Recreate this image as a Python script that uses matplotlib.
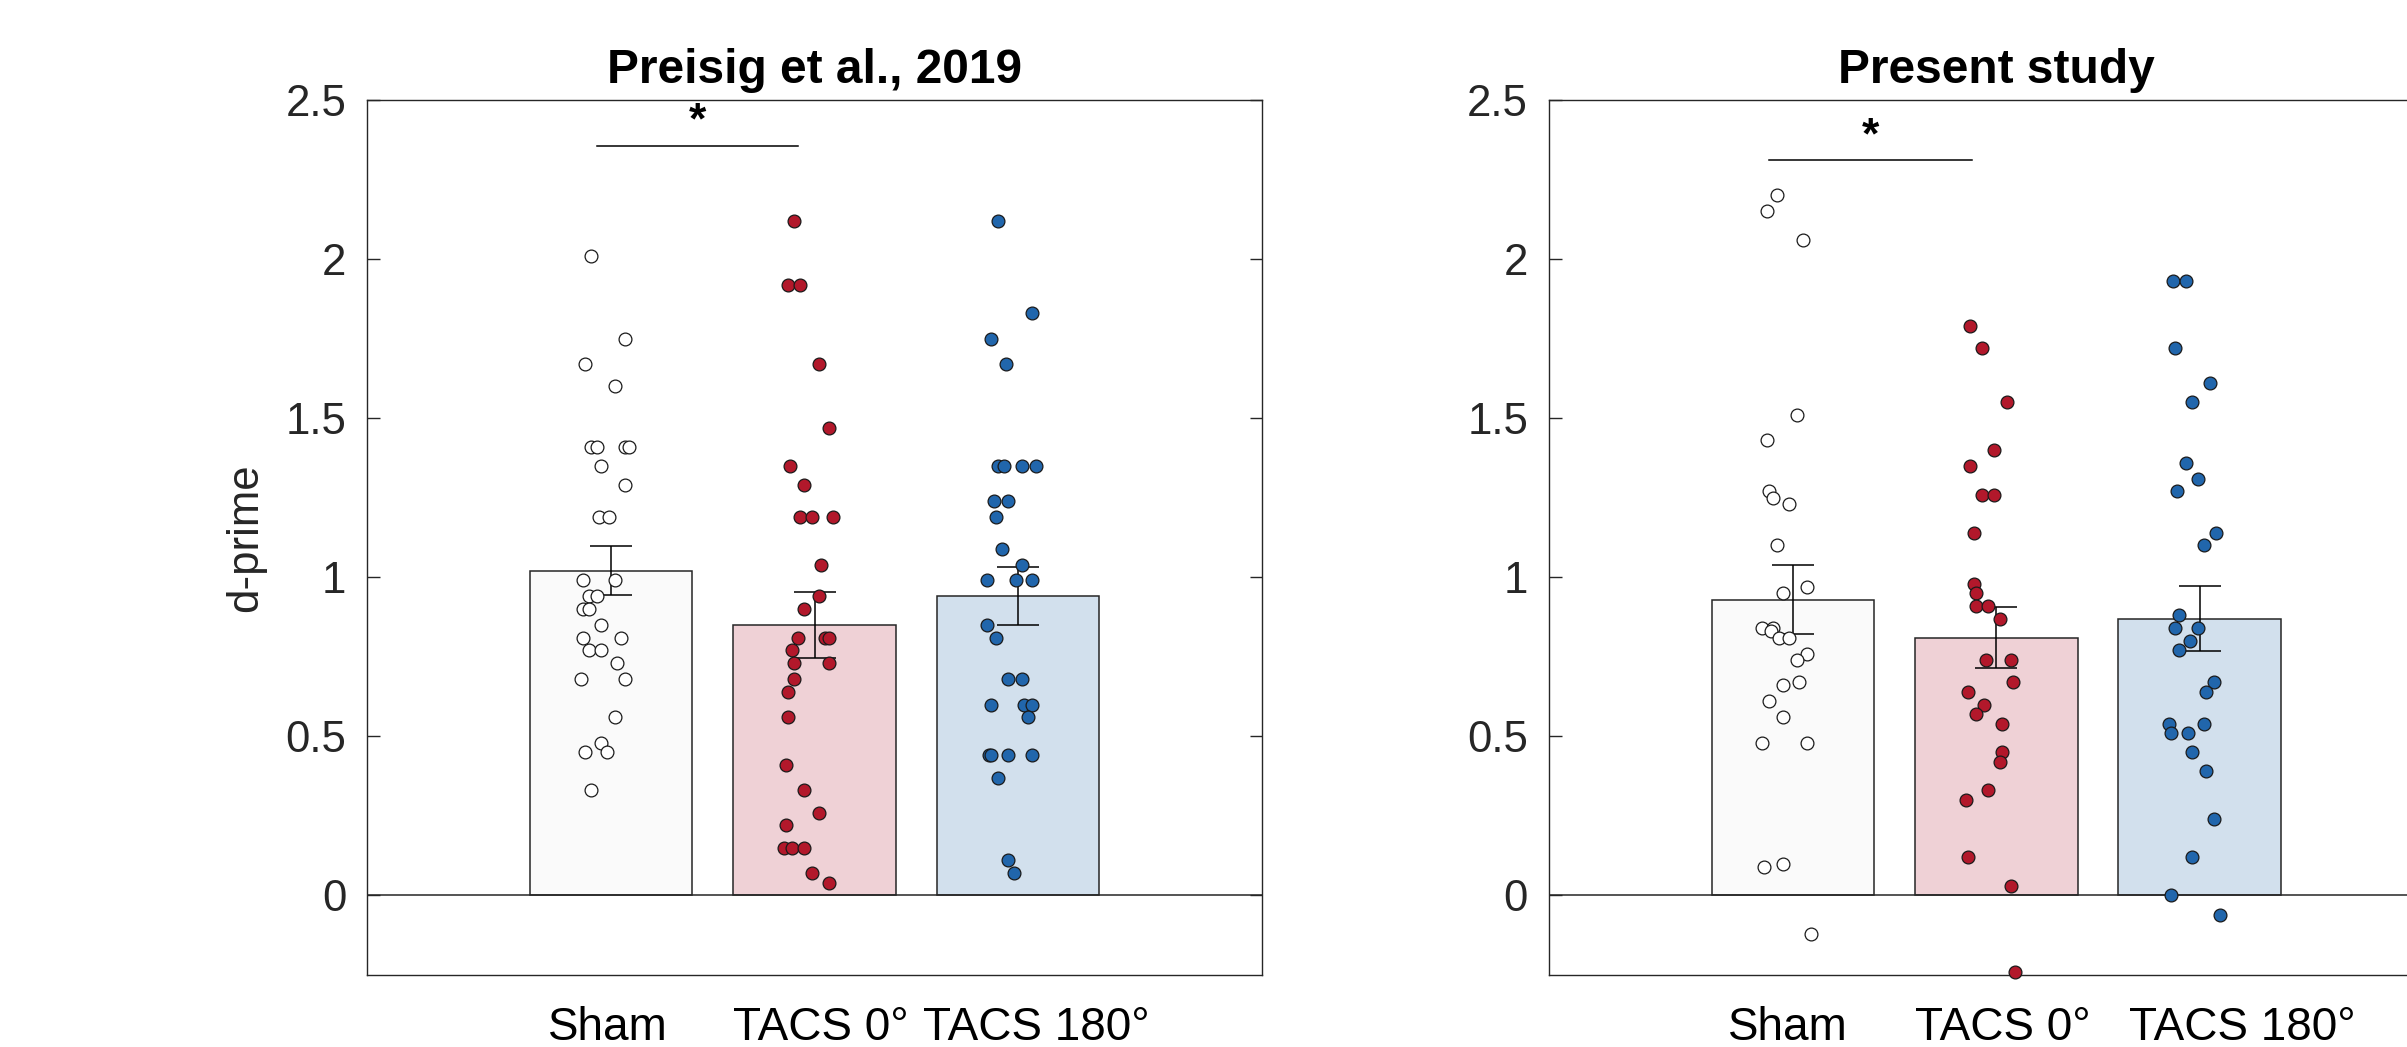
import matplotlib
matplotlib.use("Agg")
import matplotlib.pyplot as plt
import numpy as np

plt.rcParams['font.family'] = ['Liberation Sans', 'DejaVu Sans']

conditions = ['Sham', 'TACS 0°', 'TACS 180°']
yticks = [0, 0.5, 1, 1.5, 2, 2.5]
ytick_labels = ['0', '0.5', '1', '1.5', '2', '2.5']

# --- Preisig et al., 2019 ---
preisig_means = [1.02, 0.85, 0.94]
preisig_sem = [0.077, 0.103, 0.091]

preisig_sham = [2.01, 1.75, 1.67, 1.60, 1.41, 1.41, 1.41, 1.41, 1.35, 1.29, 1.19, 1.19,
                0.99, 0.99, 0.94, 0.94, 0.90, 0.90, 0.85, 0.81, 0.81, 0.77, 0.77, 0.73,
                0.68, 0.68, 0.56, 0.48, 0.45, 0.45, 0.33]
preisig_sham_jit = [-0.10, 0.07, -0.13, 0.02, -0.10, -0.07, 0.07, 0.09, -0.05, 0.07, -0.06, -0.01,
                    -0.14, 0.02, -0.11, -0.07, -0.14, -0.11, -0.05, -0.14, 0.05, -0.11, -0.05, 0.03,
                    -0.15, 0.07, 0.02, -0.05, -0.13, -0.02, -0.10]

preisig_tacs0 = [2.12, 1.92, 1.92, 1.67, 1.47, 1.35, 1.29, 1.19, 1.19, 1.19, 1.04, 0.94,
                 0.90, 0.81, 0.81, 0.81, 0.77, 0.73, 0.73, 0.68, 0.64, 0.56, 0.41, 0.33,
                 0.26, 0.22, 0.15, 0.15, 0.15, 0.07, 0.04]
preisig_tacs0_jit = [-0.10, -0.13, -0.07, 0.02, 0.07, -0.12, -0.05, -0.07, -0.01, 0.09, 0.03, 0.02,
                     -0.05, -0.08, 0.05, 0.07, -0.11, -0.10, 0.07, -0.10, -0.13, -0.13, -0.14, -0.05,
                     0.02, -0.14, -0.15, -0.11, -0.05, -0.01, 0.07]

preisig_tacs180 = [2.12, 1.83, 1.75, 1.67, 1.35, 1.35, 1.35, 1.35, 1.24, 1.24, 1.19, 1.09,
                   1.04, 0.99, 0.99, 0.99, 0.85, 0.81, 0.68, 0.68, 0.60, 0.60, 0.60, 0.56,
                   0.44, 0.44, 0.44, 0.44, 0.37, 0.11, 0.07]
preisig_tacs180_jit = [-0.10, 0.07, -0.13, -0.06, -0.10, -0.07, 0.02, 0.09, -0.12, -0.05, -0.11, -0.08,
                       0.02, -0.15, -0.01, 0.07, -0.15, -0.11, -0.05, 0.02, -0.13, 0.03, 0.07, 0.05,
                       -0.14, -0.13, -0.05, 0.07, -0.10, -0.05, -0.02]

# --- Present study ---
present_means = [0.93, 0.81, 0.87]
present_sem = [0.107, 0.096, 0.103]

present_sham = [2.20, 2.15, 2.06, 1.51, 1.43, 1.27, 1.25, 1.23, 1.10, 0.97, 0.95, 0.84,
                0.84, 0.83, 0.81, 0.81, 0.76, 0.74, 0.67, 0.66, 0.61, 0.56, 0.48, 0.48,
                0.10, 0.09, -0.12]
present_sham_jit = [-0.08, -0.13, 0.05, 0.02, -0.13, -0.12, -0.10, -0.02, -0.08, 0.07, -0.05, -0.15,
                    -0.10, -0.11, -0.07, -0.02, 0.07, 0.02, 0.03, -0.05, -0.12, -0.05, -0.15, 0.07,
                    -0.05, -0.14, 0.09]

present_tacs0 = [1.79, 1.72, 1.55, 1.40, 1.35, 1.26, 1.26, 1.14, 0.98, 0.95, 0.91, 0.91,
                 0.87, 0.74, 0.74, 0.67, 0.64, 0.60, 0.57, 0.54, 0.45, 0.42, 0.33, 0.30,
                 0.12, 0.03, -0.24]
present_tacs0_jit = [-0.13, -0.07, 0.05, -0.01, -0.13, -0.07, -0.01, -0.11, -0.11, -0.10, -0.10, -0.04,
                     0.02, -0.05, 0.07, 0.08, -0.14, -0.06, -0.10, 0.03, 0.03, 0.02, -0.04, -0.15,
                     -0.14, 0.07, 0.09]

present_tacs180 = [1.93, 1.93, 1.72, 1.61, 1.55, 1.36, 1.31, 1.27, 1.14, 1.10, 0.88, 0.84,
                   0.84, 0.80, 0.77, 0.67, 0.64, 0.54, 0.54, 0.51, 0.51, 0.45, 0.39, 0.24,
                   0.12, 0.00, -0.06]
present_tacs180_jit = [-0.13, -0.07, -0.12, 0.05, -0.04, -0.07, -0.01, -0.11, 0.08, 0.02, -0.10, -0.12,
                       -0.01, -0.05, -0.10, 0.07, 0.03, -0.15, 0.02, -0.14, -0.06, -0.04, 0.03, 0.07,
                       -0.04, -0.14, 0.10]

bar_colors = ['#fafafa', '#efd1d6', '#d2e0ed']
dot_colors = ['white', '#b2182b', '#2166ac']
axis_gray = '#262626'


def draw_panel(ax, title, means, sems, groups, sig, label_x, ylabel=None):
    x = np.arange(1, 4)
    ax.bar(x, means, width=0.8, color=bar_colors, edgecolor=axis_gray, linewidth=1.1, zorder=2)
    ax.axhline(0, color=axis_gray, lw=1.1, zorder=2.5)
    ax.errorbar(x, means, yerr=sems, fmt='none', ecolor='black', elinewidth=1.1,
                capsize=15, capthick=1.1, zorder=3)
    for i, (vals, jit) in enumerate(groups):
        ax.scatter(x[i] + np.array(jit), vals, s=85, c=dot_colors[i], edgecolors='#1a1a1a',
                   linewidths=0.9, zorder=4, clip_on=False)

    # significance bar
    x0, x1, ybar, ystar = sig
    ax.plot([x0, x1], [ybar, ybar], color='black', lw=1.1, zorder=4)
    ax.text((x0 + x1) / 2, ystar, '*', ha='center', va='center', fontsize=32, fontweight='bold')

    ax.set_xlim(-0.2, 4.2)
    ax.set_ylim(-0.25, 2.5)
    ax.set_yticks(yticks)
    ax.set_yticklabels(ytick_labels)
    # category labels sit a bit off the bar centres in the original
    ax.set_xticks(label_x)
    ax.set_xticklabels(conditions)
    ax.tick_params(axis='y', direction='in', length=9, width=1, right=True,
                   labelsize=31.5, colors=axis_gray, pad=15)
    ax.tick_params(axis='x', length=0, labelsize=33, labelcolor='black', pad=22)
    for s in ax.spines.values():
        s.set_color(axis_gray)
        s.set_linewidth(1)
    ax.set_title(title, fontsize=34.5, fontweight='bold', pad=12)
    if ylabel:
        ax.set_ylabel(ylabel, fontsize=31.5, color=axis_gray, labelpad=14)


fig = plt.figure(figsize=(24.07, 10.47), dpi=100)
ax1 = fig.add_axes([0.1525, 0.0688, 0.3718, 0.8357])
ax2 = fig.add_axes([0.6435, 0.0688, 0.3718, 0.8357])

draw_panel(ax1, 'Preisig et al., 2019', preisig_means, preisig_sem,
           [(preisig_sham, preisig_sham_jit), (preisig_tacs0, preisig_tacs0_jit),
            (preisig_tacs180, preisig_tacs180_jit)],
           (0.93, 1.92, 2.355, 2.43), (0.985, 2.03, 3.09), ylabel='d-prime')
draw_panel(ax2, 'Present study', present_means, present_sem,
           [(present_sham, present_sham_jit), (present_tacs0, present_tacs0_jit),
            (present_tacs180, present_tacs180_jit)],
           (0.88, 1.88, 2.31, 2.385), (0.973, 2.03, 3.21))

fig.savefig('out.png', dpi=100)
